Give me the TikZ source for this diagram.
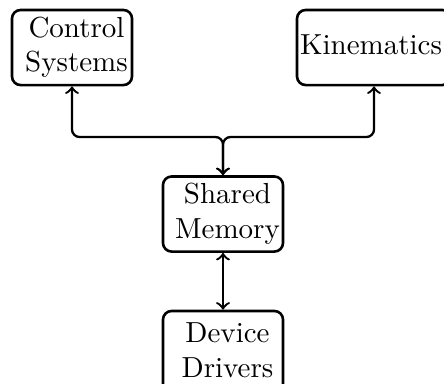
\documentclass[tikz,border=0pt]{standalone}
\usetikzlibrary{arrows}
\begin{document}
\begin{tikzpicture}[
    x=0.3448pt, y=-0.3448pt,
    box/.style={draw, line width=0.9pt, rounded corners=3pt,
                minimum width=41.4pt, minimum height=25.9pt, inner sep=0pt},
    label text/.style={inner sep=0pt, align=center},
    conn/.style={thick, <->, rounded corners=2.6pt}
  ]
  \useasboundingbox (0,0) rectangle (444,383);

  % boxes
  \node[box] (cs) at (72,47.5) {};
  \node[box, minimum width=53.1pt] (kin) at (374,47.5) {};
  \node[box] (sm) at (223,214) {};
  \node[box, minimum height=29pt] (dd) at (223,353) {};

  % box texts
  \node[label text] (cst) at (76.5,47.3) {Control\\Systems};
  \node[label text, anchor=base] (kint) at (371,54) {Kinematics};
  \node[label text] (smt) at (227.5,213.5) {Shared\\Memory};
  \node[label text] (ddt) at (227.5,350) {Device\\Drivers};

  % branching connector
  \coordinate (j) at (223,137);
  \draw[conn] (cs.south) -- (cs.south |- j) -- (j) -- (sm.north);
  \draw[conn] (kin.south) -- (kin.south |- j) -- (j) -- (sm.north);

  % lower connector
  \draw[conn] (sm.south) -- (dd.north);
\end{tikzpicture}
\end{document}
